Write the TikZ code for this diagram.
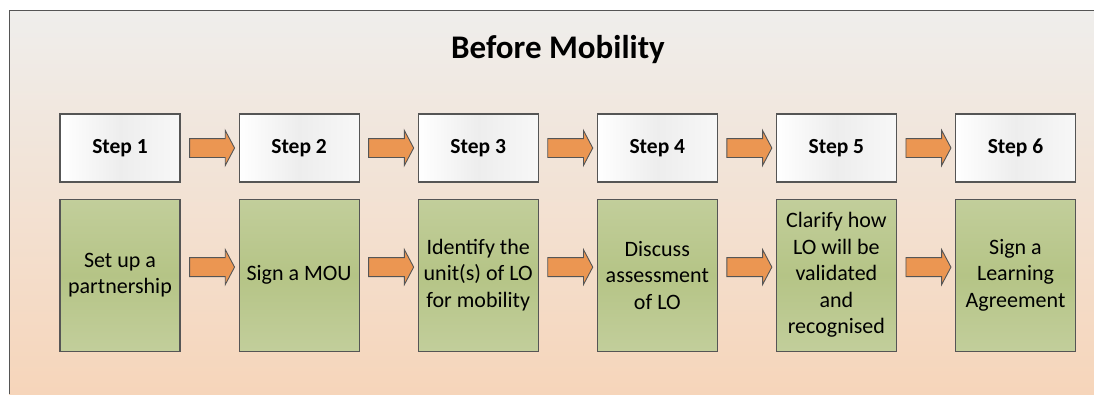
\documentclass[tikz,border=0pt]{standalone}
\usepackage{fontspec}
\setmainfont{Carlito}
\usepackage{xcolor}
\usepackage{tikz}
\usetikzlibrary{shapes,arrows,calc,positioning}
\definecolor{boxline}{RGB}{85,85,85}
\definecolor{flowfill}{RGB}{235,150,82}
\definecolor{greentop}{RGB}{194,206,155}
\definecolor{greenmid}{RGB}{181,196,134}
\definecolor{bgtop}{RGB}{239,238,236}
\definecolor{bgbottom}{RGB}{246,213,186}

\begin{document}
\begin{tikzpicture}[
  x=1pt, y=1pt,
  node distance=16pt and 58pt,
  stepbox/.style={rectangle, draw=boxline, line width=1.1pt, left color=white, right color=black!3, middle color=black!7, minimum height=68pt, minimum width=120pt, font=\fontsize{21.5}{26}\selectfont\bfseries},
  taskbox/.style={rectangle, draw=boxline, line width=1.1pt, top color=greentop, bottom color=greentop, middle color=greenmid, minimum height=152pt, minimum width=120pt, inner sep=2pt, align=center, font=\fontsize{22}{26.5}\selectfont},
  flowarrow/.style={single arrow, draw=boxline, fill=flowfill, line width=0.9pt, minimum height=45pt, single arrow head extend=8pt, single arrow tip angle=124, inner xsep=0pt, inner ysep=9pt}
]

\useasboundingbox (0,0) rectangle (1094,-394);

% Background panel
\fill[top color=bgtop, bottom color=bgbottom] (9,-10) rectangle (1094,-394);
\draw[boxline, line width=0.9pt] (9,-394) -- (9,-10) -- (1094,-10);

% Title
\node[font=\fontsize{33}{40}\selectfont\bfseries] (title) at (558,-50) {Before Mobility};

% Steps (top row)
\node[stepbox] (s1) at (120,-148) {Step 1};
\node[stepbox, right=of s1] (s2) {Step 2};
\node[stepbox, right=of s2] (s3) {Step 3};
\node[stepbox, right=of s3] (s4) {Step 4};
\node[stepbox, right=of s4] (s5) {Step 5};
\node[stepbox, right=of s5] (s6) {Step 6};

% Tasks (bottom row)
\node[taskbox, below=of s1] (t1) {Set up a\\partnership};
\node[taskbox, below=of s2] (t2) {Sign a MOU};
\node[taskbox, below=of s3] (t3) {Identify the\\unit(s) of LO\\for mobility};
\node[taskbox, below=of s4] (t4) {Discuss\\assessment\\of LO};
\node[taskbox, below=of s5] (t5) {Clarify how\\LO will be\\validated\\and\\recognised};
\node[taskbox, below=of s6] (t6) {Sign a\\Learning\\Agreement};

% Arrows - steps
\path (s1) -- (s2) node[midway, flowarrow] (a12) {};
\path (s2) -- (s3) node[midway, flowarrow] (a23) {};
\path (s3) -- (s4) node[midway, flowarrow] (a34) {};
\path (s4) -- (s5) node[midway, flowarrow] (a45) {};
\path (s5) -- (s6) node[midway, flowarrow] (a56) {};

% Arrows - tasks
\path (t1) -- (t2) node[midway, flowarrow, yshift=8pt] (b12) {};
\path (t2) -- (t3) node[midway, flowarrow, yshift=8pt] (b23) {};
\path (t3) -- (t4) node[midway, flowarrow, yshift=8pt] (b34) {};
\path (t4) -- (t5) node[midway, flowarrow, yshift=8pt] (b45) {};
\path (t5) -- (t6) node[midway, flowarrow, yshift=8pt] (b56) {};

\end{tikzpicture}
\end{document}
